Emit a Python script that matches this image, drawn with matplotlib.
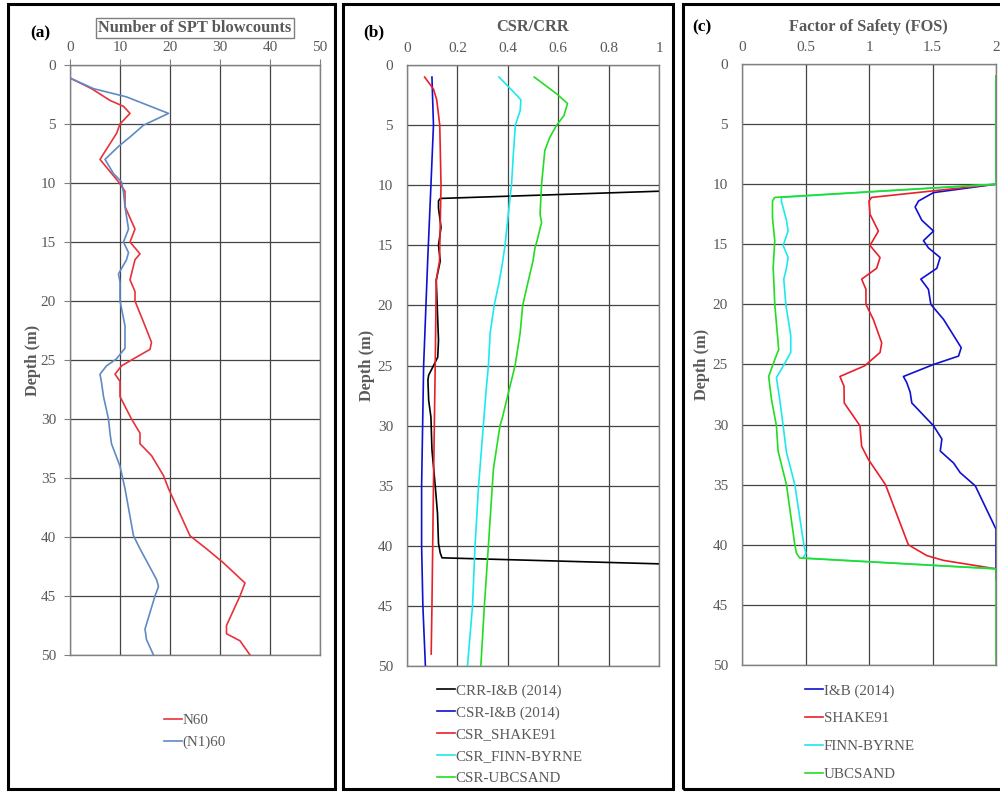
import matplotlib
matplotlib.use("Agg")
import matplotlib.pyplot as plt
from matplotlib.patches import Rectangle

plt.rcParams['font.family'] = ['Liberation Serif', 'DejaVu Serif']

GRAY = '#595959'

# ---------------- panel (a) SPT blowcounts ----------------
n60_depth = [1.1, 2.0, 3.0, 3.5, 4.1, 5.0, 5.8, 8.0, 9.9, 10.7, 12.0, 13.9, 15.0, 16.0, 16.5,
             18.2, 19.2, 20.0, 22.1, 23.5, 24.1, 24.9, 25.5, 26.2, 26.8, 28.1, 30.0, 31.2,
             32.1, 33.1, 34.8, 35.9, 39.9, 41.0, 42.2, 43.9, 45.0, 47.5, 48.2, 48.8, 50.0]
n60_val = [0.0, 4.3, 8.0, 10.7, 12.0, 10.0, 9.3, 6.0, 9.7, 11.0, 11.0, 13.0, 12.0, 14.0, 13.0,
           12.0, 13.0, 13.0, 15.0, 16.3, 16.0, 12.7, 10.3, 9.0, 10.0, 10.0, 12.3, 14.0,
           14.0, 16.3, 18.7, 19.7, 24.0, 27.3, 30.7, 35.0, 34.0, 31.3, 31.3, 34.0, 36.0]

n160_depth = [1.1, 2.0, 2.7, 4.1, 5.1, 6.1, 6.9, 8.0, 9.2, 9.9, 10.8, 12.0, 13.9, 15.0,
              15.9, 16.5, 17.7, 18.4, 20.0, 22.1, 24.0, 24.9, 25.5, 26.2, 26.9, 28.1,
              30.0, 31.2, 32.1, 34.0, 35.9, 39.9, 41.0, 43.6, 44.2, 45.0, 47.8, 48.7, 50.0]
n160_val = [0.0, 4.7, 11.3, 19.7, 14.7, 12.0, 9.7, 7.0, 8.7, 10.3, 10.7, 11.0, 11.7, 10.7,
            11.7, 11.3, 9.7, 10.0, 10.0, 11.0, 11.0, 9.3, 7.3, 6.0, 6.3, 6.7,
            7.7, 8.0, 8.3, 10.0, 11.0, 12.7, 14.0, 17.3, 17.7, 17.0, 15.0, 15.3, 16.7]

# ---------------- panel (b) CSR/CRR ----------------
crr_ib_depth = [10.0, 11.1, 11.3, 11.9, 13.5, 15.0, 16.3, 17.9, 22.9, 24.3, 25.1, 25.8,
                26.2, 27.9, 29.3, 32.0, 35.0, 37.3, 39.8, 40.6, 41.0, 42.0]
crr_ib_val = [1.72, 0.132, 0.125, 0.125, 0.135, 0.125, 0.132, 0.116, 0.125, 0.122, 0.103, 0.086,
              0.083, 0.086, 0.095, 0.099, 0.112, 0.121, 0.125, 0.132, 0.139, 1.86]

csr_ib_depth = [1.0, 5.0, 10.0, 16.3, 25.0, 35.0, 40.0, 45.0, 50.0]
csr_ib_val = [0.099, 0.105, 0.095, 0.082, 0.066, 0.058, 0.058, 0.063, 0.073]

csr_shake_depth = [1.0, 2.0, 2.9, 5.0, 10.0, 16.3, 17.9, 25.0, 35.0, 45.0, 49.0]
csr_shake_val = [0.070, 0.105, 0.118, 0.130, 0.135, 0.129, 0.116, 0.112, 0.105, 0.099, 0.096]

csr_finn_depth = [1.0, 2.5, 2.9, 3.8, 5.0, 7.4, 9.9, 12.4, 15.0, 16.3, 17.9, 20.0, 22.3,
                  25.0, 27.3, 30.0, 35.0, 40.0, 45.0, 50.0]
csr_finn_val = [0.365, 0.435, 0.452, 0.449, 0.430, 0.422, 0.415, 0.402, 0.389, 0.380, 0.367,
                0.346, 0.330, 0.323, 0.313, 0.303, 0.284, 0.270, 0.260, 0.240]

csr_ubc_depth = [1.0, 2.4, 3.2, 4.2, 5.0, 6.0, 7.1, 9.9, 12.4, 13.1, 14.7, 15.2, 16.3, 17.9,
                 20.0, 22.3, 25.0, 27.3, 29.3, 30.0, 33.6, 40.0, 45.0, 50.0]
csr_ubc_val = [0.505, 0.594, 0.637, 0.623, 0.594, 0.567, 0.547, 0.534, 0.528, 0.534, 0.515,
               0.508, 0.500, 0.482, 0.459, 0.449, 0.429, 0.402, 0.379, 0.369, 0.343, 0.323,
               0.307, 0.293]

# ---------------- panel (c) factor of safety ----------------
fos_ib_depth = [1.0, 10.0, 10.7, 11.4, 11.9, 13.0, 13.9, 14.7, 15.3, 16.1, 17.0, 17.9, 18.75,
                20.0, 21.25, 23.6, 24.3, 25.0, 26.0, 26.5, 27.3, 28.2, 30.1, 31.2, 32.2,
                33.2, 34.0, 35.1, 38.7, 42.9]
fos_ib_val = [2.0, 2.0, 1.508, 1.39, 1.363, 1.416, 1.508, 1.429, 1.468, 1.56, 1.534, 1.408, 1.468,
              1.487, 1.587, 1.726, 1.705, 1.508, 1.271, 1.297, 1.324, 1.337, 1.508, 1.574, 1.561,
              1.666, 1.718, 1.837, 2.0, 2.0]

fos_shake_depth = [1.0, 10.0, 11.1, 11.4, 12.5, 13.9, 15.1, 16.1, 17.0, 17.9, 18.75, 20.0,
                   21.25, 23.2, 24.0, 25.1, 26.0, 26.8, 28.2, 30.1, 31.8, 32.9, 35.0, 38.2,
                   40.0, 40.9, 41.3, 42.0]
fos_shake_val = [2.0, 2.0, 1.02, 1.0, 1.008, 1.074, 1.008, 1.087, 1.06, 0.942, 0.976, 0.976,
                 1.034, 1.10, 1.087, 0.968, 0.771, 0.803, 0.805, 0.929, 0.942, 0.995, 1.13, 1.245,
                 1.31, 1.455, 1.587, 2.0]

fos_finn_depth = [1.0, 10.0, 11.1, 11.4, 13.0, 13.9, 15.1, 16.1, 17.0, 17.9, 20.0, 22.6, 24.0,
                  24.9, 26.1, 27.9, 30.1, 32.3, 35.0, 40.0, 40.7, 41.1, 42.0]
fos_finn_val = [2.0, 2.0, 0.31, 0.31, 0.35, 0.363, 0.324, 0.363, 0.35, 0.329, 0.345, 0.384, 0.384,
                0.337, 0.271, 0.297, 0.324, 0.35, 0.416, 0.487, 0.503, 0.48, 2.0]

fos_ubc_depth = [1.0, 10.0, 11.1, 11.4, 12.8, 14.7, 17.0, 17.9, 20.0, 23.75, 24.6, 26.0, 27.9,
                 30.1, 32.2, 35.0, 40.0, 40.7, 41.1, 42.0, 50.0]
fos_ubc_val = [2.0, 2.0, 0.258, 0.24, 0.24, 0.258, 0.245, 0.25, 0.258, 0.289, 0.258, 0.21, 0.232,
               0.271, 0.284, 0.35, 0.416, 0.429, 0.455, 2.0, 2.0]

depth_ticks = list(range(0, 51, 5))

fig = plt.figure(figsize=(10, 7.94), dpi=100)


def style_axes(ax, xmax, xticks, xtick_labels, ticklen, labelpad):
    ax.set_xlim(0, xmax)
    ax.set_ylim(50, 0)
    ax.xaxis.tick_top()
    ax.set_xticks(xticks)
    ax.set_xticklabels(xtick_labels)
    ax.set_yticks(depth_ticks)
    ax.grid(True, color='#444444', lw=0.9)
    ax.set_axisbelow(True)
    for s in ax.spines.values():
        s.set_color('#808080')
        s.set_linewidth(1.0)
    ax.tick_params(axis='both', colors='#808080', labelcolor=GRAY, labelsize=11,
                   length=ticklen, width=0.8)
    ax.tick_params(axis='x', pad=4 if ticklen else 7)
    ax.tick_params(axis='y', pad=6 if ticklen else 10)
    ax.set_ylabel('Depth (m)', fontsize=11.8, fontweight='bold', color=GRAY, labelpad=labelpad)


def add_legend(ax, x, y, spacing):
    ax.legend(loc='upper left', bbox_to_anchor=(x, y), bbox_transform=fig.transFigure,
              frameon=False, fontsize=10.8, handlelength=1.2, handletextpad=0.05,
              labelspacing=spacing, labelcolor=GRAY, borderaxespad=0, borderpad=0)


# panel (a)
ax1 = fig.add_axes([0.070, 0.1751, 0.250, 0.7430])
ax1.plot(n60_val, n60_depth, color='#e8323a', lw=1.2, label='N60')
ax1.plot(n160_val, n160_depth, color='#5f8ac4', lw=1.2, label='(N1)60')
style_axes(ax1, 50, range(0, 51, 10), [str(v) for v in range(0, 51, 10)], 4, 0)
fig.text(0.195, 1 - 28 / 794, 'Number of SPT blowcounts', ha='center', va='center',
         fontsize=11.8, fontweight='bold', color=GRAY,
         bbox=dict(boxstyle='square,pad=0.12', fc='white', ec='#7f7f7f', lw=1))
fig.text(0.040, 1 - 33 / 794, '(a)', ha='center', va='center', fontsize=12.5, fontweight='bold')
add_legend(ax1, 0.164, 1 - 714 / 794, 0.55)

# panel (b)
ax2 = fig.add_axes([0.407, 0.1612, 0.252, 0.7569])
ax2.plot(crr_ib_val, crr_ib_depth, color='black', lw=1.2, label='CRR-I&B (2014)')
ax2.plot(csr_ib_val, csr_ib_depth, color='#1010d0', lw=1.2, label='CSR-I&B (2014)')
ax2.plot(csr_shake_val, csr_shake_depth, color='#e8202a', lw=1.2, label='CSR_SHAKE91')
ax2.plot(csr_finn_val, csr_finn_depth, color='#1ee8ee', lw=1.2, label='CSR_FINN-BYRNE')
ax2.plot(csr_ubc_val, csr_ubc_depth, color='#22dd22', lw=1.2, label='CSR-UBCSAND')
style_axes(ax2, 1, [0, 0.2, 0.4, 0.6, 0.8, 1.0], ['0', '0.2', '0.4', '0.6', '0.8', '1'], 0, 2)
fig.text(0.533, 1 - 27 / 794, 'CSR/CRR', ha='center', va='center',
         fontsize=11.8, fontweight='bold', color=GRAY)
fig.text(0.374, 1 - 32 / 794, '(b)', ha='center', va='center', fontsize=12.5, fontweight='bold')
add_legend(ax2, 0.437, 1 - 684 / 794, 0.55)

# panel (c)
ax3 = fig.add_axes([0.742, 0.1625, 0.254, 0.7569])
ax3.plot(fos_ib_val, fos_ib_depth, color='#1010d0', lw=1.2, label='I&B (2014)')
ax3.plot(fos_shake_val, fos_shake_depth, color='#e8202a', lw=1.2, label='SHAKE91')
ax3.plot(fos_finn_val, fos_finn_depth, color='#1ee8ee', lw=1.2, label='FINN-BYRNE')
ax3.plot(fos_ubc_val, fos_ubc_depth, color='#22dd22', lw=1.2, label='UBCSAND')
style_axes(ax3, 2, [0, 0.5, 1.0, 1.5, 2.0], ['0', '0.5', '1', '1.5', '2'], 0, 2)
fig.text(0.868, 1 - 27 / 794, 'Factor of Safety (FOS)', ha='center', va='center',
         fontsize=11.8, fontweight='bold', color=GRAY)
fig.text(0.702, 1 - 27 / 794, '(c)', ha='center', va='center', fontsize=12.5, fontweight='bold')
add_legend(ax3, 0.805, 1 - 684 / 794, 0.95)

# panel frames
for x0, x1 in [(8, 335), (343, 673), (683, 1010)]:
    fig.add_artist(Rectangle((x0 / 1000, 5 / 794), (x1 - x0) / 1000, 785 / 794,
                             transform=fig.transFigure, fill=False, ec='black', lw=2.2))

fig.savefig('out.png', dpi=100)
